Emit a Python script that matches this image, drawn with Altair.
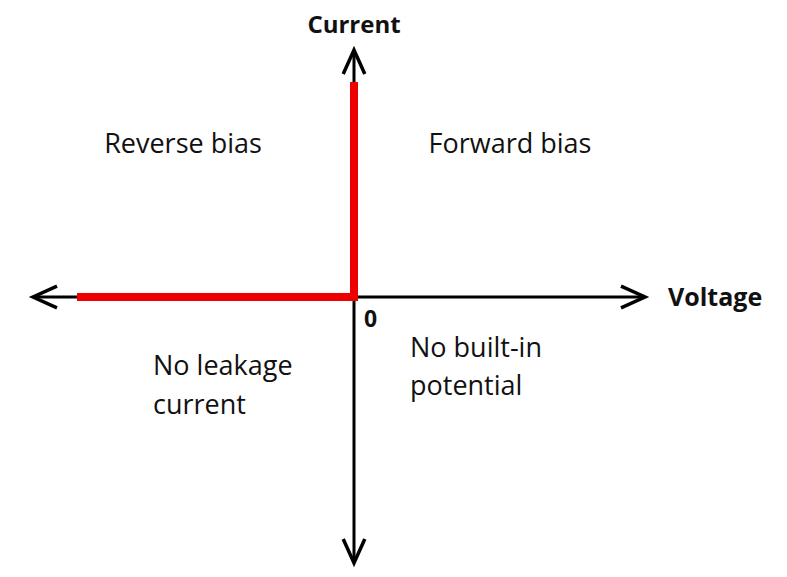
import altair as alt
import pandas as pd

# Axis extents (voltage / current units, origin at 0)
axis_x_min, axis_x_max = -3.21, 2.91
axis_y_min, axis_y_max = -2.66, 2.47

# Ideal diode characteristic (red)
curve_v = [-2.77, 0.0, 0.0]
curve_i = [0.0, 0.0, 2.15]

# Region labels
region_text = ["Reverse bias", "Forward bias", "No leakage", "current", "No built-in", "potential"]
region_x = [-1.71, 1.56, -2.01, -2.01, 0.56, 0.56]
region_y = [1.44, 1.44, -0.78, -1.17, -0.60, -0.98]
region_align = ["center", "center", "left", "left", "left", "left"]

# Axis labels
axis_text = ["Current", "Voltage", "0"]
axis_lx = [0.0, 3.14, 0.10]
axis_ly = [2.64, -0.09, -0.30]
axis_align = ["center", "left", "left"]
axis_size = [24, 25, 23]

XD = [-3.46, 4.25]
YD = [-2.72, 2.89]
xs = alt.Scale(domain=XD)
ys = alt.Scale(domain=YD)

axes_df = pd.DataFrame({
    "x": [axis_x_min, 0.0], "x2": [axis_x_max, 0.0],
    "y": [0.0, axis_y_min], "y2": [0.0, axis_y_max],
})
axes = alt.Chart(axes_df).mark_rule(color="black", strokeWidth=3).encode(
    x=alt.X("x:Q", scale=xs, axis=None), x2="x2:Q",
    y=alt.Y("y:Q", scale=ys, axis=None), y2="y2:Q",
)

arrows_df = pd.DataFrame({
    "x": [axis_x_max, axis_x_min, 0.0, 0.0],
    "y": [0.0, 0.0, axis_y_max, axis_y_min],
    "ang": [0, 180, 270, 90],
})
chevron = "M-1,-0.45L0,0L-1,0.45"
arrows = alt.Chart(arrows_df).mark_point(
    shape=chevron, size=2304, filled=False, color="black", strokeWidth=3.5,
    strokeJoin="miter", opacity=1,
).encode(
    x=alt.X("x:Q", scale=xs, axis=None),
    y=alt.Y("y:Q", scale=ys, axis=None),
    angle=alt.Angle("ang:Q", scale=None),
)

curve_df = pd.DataFrame({"v": curve_v, "i": curve_i, "o": list(range(len(curve_v)))})
curve = alt.Chart(curve_df).mark_line(
    color="#ee0000", strokeWidth=8, strokeJoin="miter", strokeCap="butt"
).encode(
    x=alt.X("v:Q", scale=xs, axis=None),
    y=alt.Y("i:Q", scale=ys, axis=None),
    order="o:Q",
)

reg_df = pd.DataFrame({"t": region_text, "x": region_x, "y": region_y, "a": region_align})
reg_layers = []
for al in ["center", "left"]:
    reg_layers.append(
        alt.Chart(reg_df[reg_df.a == al]).mark_text(
            align=al, baseline="alphabetic", font="Open Sans", fontSize=27, color="#111111"
        ).encode(
            x=alt.X("x:Q", scale=xs, axis=None),
            y=alt.Y("y:Q", scale=ys, axis=None),
            text="t:N",
        )
    )

ax_df = pd.DataFrame({"t": axis_text, "x": axis_lx, "y": axis_ly, "a": axis_align, "s": axis_size})
ax_layers = []
for i in range(len(axis_text)):
    ax_layers.append(
        alt.Chart(ax_df.iloc[[i]]).mark_text(
            align=axis_align[i], baseline="alphabetic", font="Open Sans", fontWeight="bold",
            fontSize=axis_size[i], color="#111111"
        ).encode(
            x=alt.X("x:Q", scale=xs, axis=None),
            y=alt.Y("y:Q", scale=ys, axis=None),
            text="t:N",
        )
    )

chart = alt.layer(axes, arrows, curve, *reg_layers, *ax_layers).properties(
    width=771, height=561, padding=0, autosize="none", background="white"
).configure_view(stroke=None)

chart.save("out.html", embed_options={"renderer": "svg", "actions": False})
